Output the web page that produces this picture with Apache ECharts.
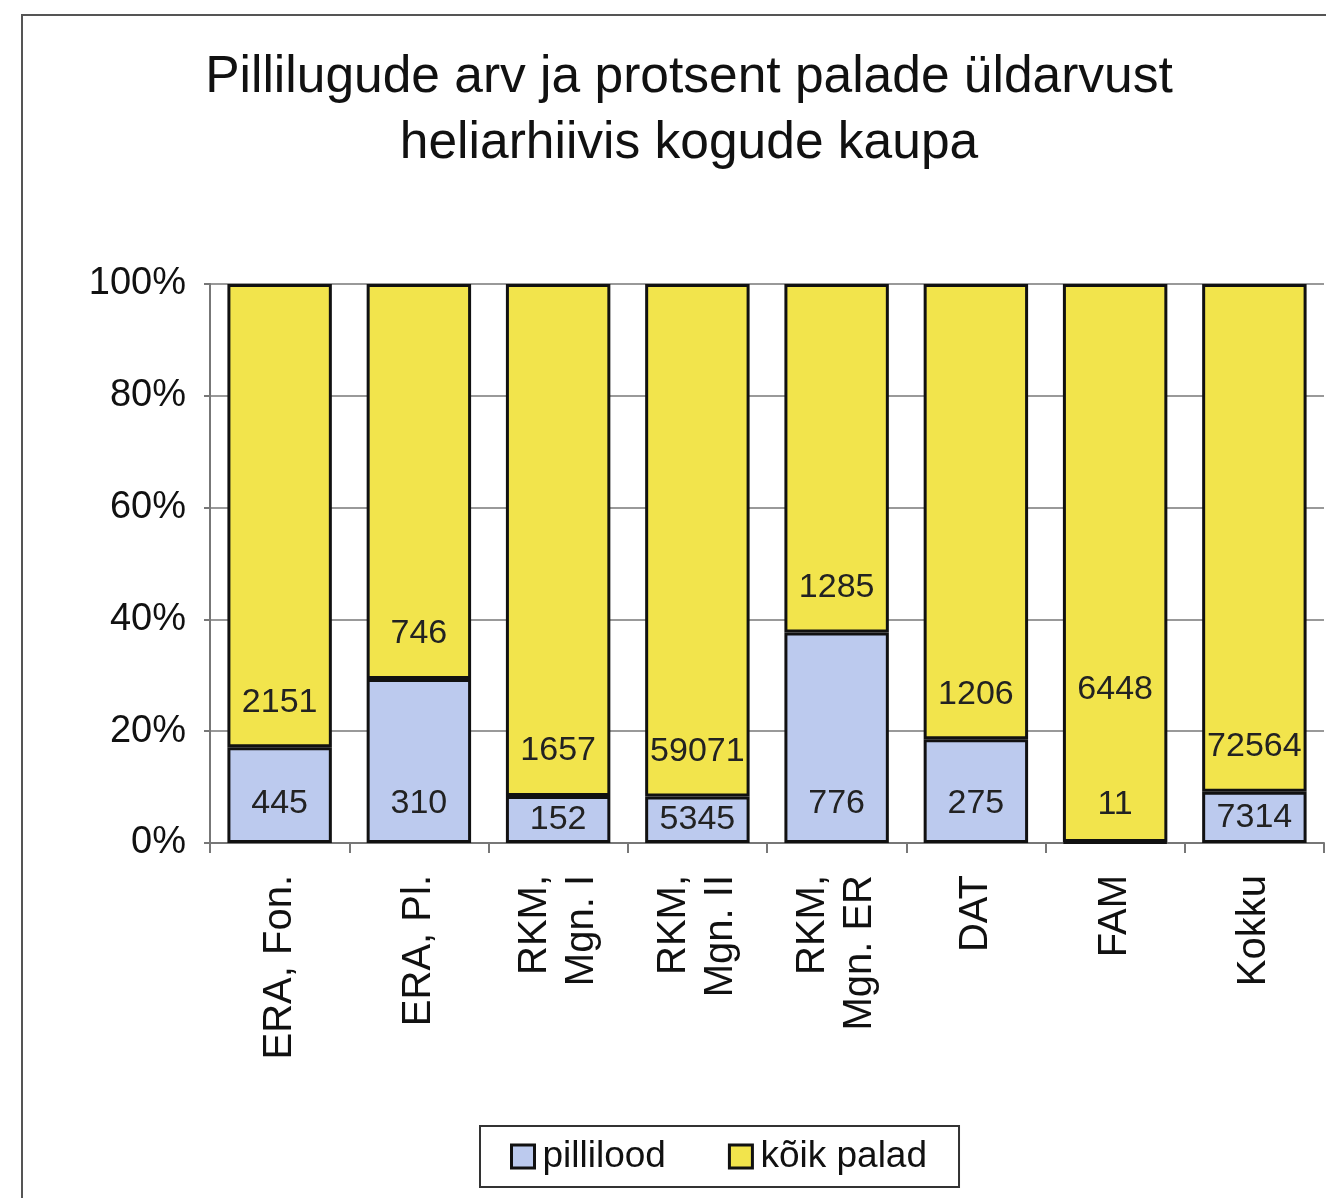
<!DOCTYPE html>
<html>
<head>
<meta charset="utf-8">
<script src="https://cdn.jsdelivr.net/npm/echarts@6/dist/echarts.min.js"></script>
<style>
  html, body { margin: 0; padding: 0; background: #fff; }
  #chart { width: 1326px; height: 1198px; }
</style>
</head>
<body>
<div id="chart"></div>
<script>
const categories = ['ERA, Fon.', 'ERA, Pl.', 'RKM,\nMgn. I', 'RKM,\nMgn. II', 'RKM,\nMgn. ER', 'DAT', 'FAM', 'Kokku'];
const pillilood = [445, 310, 152, 5345, 776, 275, 11, 7314];
const koikPalad = [2151, 746, 1657, 59071, 1285, 1206, 6448, 72564];
const yTicks = [0, 20, 40, 60, 80, 100];

const font = 'Liberation Sans, Arial, sans-serif';

// 100% kuhjatud tulbad: osakaal arvutatakse kahe rea summast
const bluePct = pillilood.map((p, i) => p / (p + koikPalad[i]) * 100);
const yellowPct = bluePct.map(v => 100 - v);

const blueData = bluePct.map((v, i) => {
  const small = v > 2 && v < 12;
  return {
    value: v,
    raw: pillilood[i],
    label: small ? { position: 'inside' } : { position: 'insideBottom', distance: 22 }
  };
});
const yellowData = yellowPct.map((v, i) => ({
  value: v,
  raw: koikPalad[i],
  label: { position: 'insideBottom', distance: bluePct[i] < 1 ? 135 : 28 }
}));

const labelBase = {
  show: true,
  color: '#222',
  fontFamily: font,
  fontSize: 34,
  formatter: p => p.data.raw
};

const chart = echarts.init(document.getElementById('chart'));
chart.setOption({
  animation: false,
  backgroundColor: '#fff',
  title: {
    text: 'Pillilugude arv ja protsent palade üldarvust\nheliarhiivis kogude kaupa',
    left: 684,
    top: 40,
    textAlign: 'center',
    textStyle: { fontFamily: font, fontSize: 51.5, fontWeight: 'normal', color: '#111', lineHeight: 66 }
  },
  graphic: [{
    type: 'rect',
    shape: { x: 22, y: 15, width: 1400, height: 1300 },
    style: { fill: 'none', stroke: '#555', lineWidth: 2 },
    silent: true
  }],
  legend: {
    left: 480,
    top: 1126,
    padding: [12, 32, 12, 30],
    itemGap: 62,
    itemWidth: 23,
    itemHeight: 23,
    icon: 'rect',
    borderColor: '#333',
    borderWidth: 2,
    itemStyle: { borderColor: '#111', borderWidth: 3 },
    textStyle: { fontFamily: font, fontSize: 37, color: '#111', padding: [0, 0, 0, 3] },
    data: ['pillilood', 'kõik palad']
  },
  grid: { left: 210, right: 2, top: 284, bottom: 355 },
  xAxis: {
    type: 'category',
    data: categories,
    axisLine: { lineStyle: { color: '#777', width: 2 } },
    axisTick: { show: true, length: 10, lineStyle: { color: '#777', width: 2 } },
    axisLabel: {
      rotate: 90,
      margin: 32,
      interval: 0,
      fontFamily: font,
      fontSize: 40,
      lineHeight: 47,
      color: '#111'
    }
  },
  yAxis: {
    type: 'value',
    min: yTicks[0],
    max: yTicks[yTicks.length - 1],
    interval: 20,
    axisLine: { show: true, lineStyle: { color: '#777', width: 2 } },
    axisTick: { show: true, length: 6, lineStyle: { color: '#777', width: 2 } },
    splitLine: { lineStyle: { color: '#999', width: 2 } },
    axisLabel: {
      formatter: '{value}%',
      margin: 24,
      fontFamily: font,
      fontSize: 38,
      color: '#111'
    }
  },
  series: [
    {
      name: 'pillilood',
      type: 'bar',
      stack: 'total',
      barCategoryGap: '25%',
      itemStyle: { color: '#bccaee', borderColor: '#111', borderWidth: 3 },
      label: labelBase,
      data: blueData
    },
    {
      name: 'kõik palad',
      type: 'bar',
      stack: 'total',
      itemStyle: { color: '#f2e44c', borderColor: '#111', borderWidth: 3 },
      label: labelBase,
      data: yellowData
    }
  ]
});
</script>
</body>
</html>
